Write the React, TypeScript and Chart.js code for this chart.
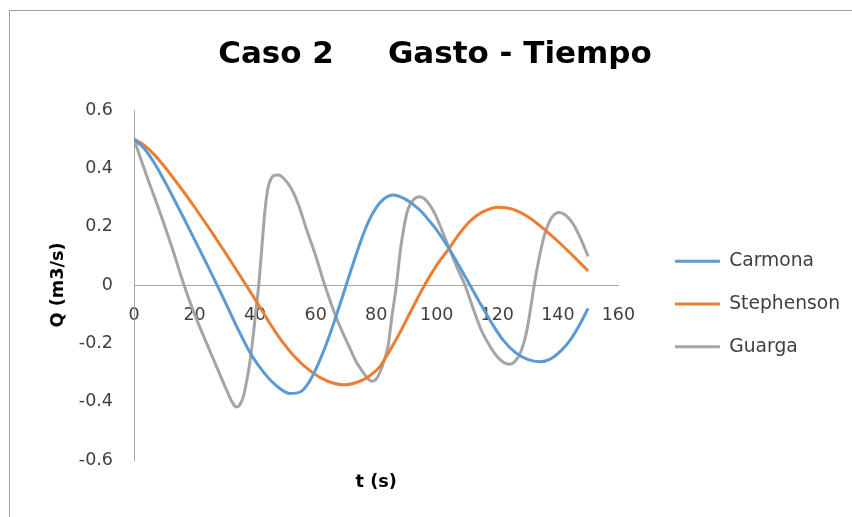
import { useEffect, useRef } from 'react';
import { Chart, registerables } from 'chart.js';

Chart.register(...registerables);

// ---- Data ----
const seriesNames = ['Carmona', 'Stephenson', 'Guarga'];
const seriesColors = ['#5B9BD5', '#ED7D31', '#A5A5A5'];

const carmonaT = [0, 3, 6.6, 10, 13.2, 16.5, 19.8, 23.5, 27.3, 31, 35, 38.5, 42.7, 47, 51.5, 55, 57.5, 60, 62.5, 65, 67.5, 70, 72.5, 75, 77.5, 80, 82.5, 85.6, 89, 92.5, 95, 97.7, 100, 104, 107, 110.3, 114, 118.6, 122, 126, 130, 134, 137.5, 141, 144, 147, 150];
const carmonaQ = [0.5, 0.472, 0.42, 0.358, 0.295, 0.228, 0.16, 0.083, 0.003, -0.078, -0.165, -0.235, -0.298, -0.345, -0.372, -0.366, -0.338, -0.29, -0.23, -0.16, -0.083, -0.003, 0.077, 0.153, 0.218, 0.265, 0.295, 0.309, 0.298, 0.274, 0.251, 0.218, 0.188, 0.126, 0.072, 0.012, -0.057, -0.138, -0.19, -0.232, -0.255, -0.263, -0.254, -0.226, -0.19, -0.14, -0.08];

const stephensonT = [0, 3, 6.6, 10, 13.2, 16.5, 19.8, 23, 26.4, 30, 33, 37, 40.5, 44, 48.2, 53, 58.6, 64, 69.5, 74.6, 78, 81.2, 84.5, 88, 91.1, 96, 100, 104.1, 107.5, 110.9, 115, 120.5, 125, 130, 135.6, 140, 145, 150];
const stephensonQ = [0.5, 0.482, 0.448, 0.407, 0.364, 0.318, 0.27, 0.222, 0.17, 0.113, 0.065, 0, -0.058, -0.117, -0.183, -0.245, -0.298, -0.33, -0.342, -0.33, -0.31, -0.28, -0.225, -0.16, -0.097, 0, 0.068, 0.126, 0.176, 0.218, 0.25, 0.267, 0.26, 0.235, 0.19, 0.15, 0.1, 0.048];

const guargaT = [0, 4, 8.3, 12.5, 16.5, 20, 24, 28.5, 31, 32.5, 33.8, 35, 36.2, 37.2, 38.2, 39.2, 40.3, 41.2, 42.2, 43.2, 44.2, 45.3, 46.5, 47.8, 49.5, 52, 54.5, 57, 60, 63, 66.7, 69, 71, 73.5, 75.7, 77.2, 78.5, 79.8, 81.2, 82.6, 83.9, 85.3, 86.7, 88, 89.2, 90.5, 92.3, 94.2, 96, 99.3, 102, 104.1, 106.5, 109.3, 112, 114.5, 117, 119.5, 122, 124.1, 125.8, 127.5, 128.7, 129.8, 131, 132.2, 133.4, 134.6, 136, 138, 140.4, 142.5, 145, 147.5, 150];
const guargaQ = [0.5, 0.38, 0.257, 0.13, 0, -0.1, -0.2, -0.31, -0.37, -0.403, -0.418, -0.41, -0.38, -0.33, -0.27, -0.19, -0.085, 0, 0.125, 0.25, 0.33, 0.365, 0.376, 0.377, 0.365, 0.33, 0.27, 0.19, 0.1, 0, -0.109, -0.165, -0.21, -0.265, -0.3, -0.32, -0.33, -0.325, -0.3, -0.26, -0.21, -0.1, 0, 0.12, 0.2, 0.26, 0.292, 0.303, 0.295, 0.246, 0.18, 0.126, 0.065, 0, -0.08, -0.15, -0.2, -0.24, -0.265, -0.272, -0.262, -0.235, -0.2, -0.154, -0.08, 0, 0.07, 0.131, 0.185, 0.232, 0.249, 0.24, 0.21, 0.16, 0.098];

const xMin = 0;
const xMax = 160;
const xStep = 20;
const yMin = -0.6;
const yMax = 0.6;
const yStep = 0.2;

const titleText = 'Caso 2     Gasto - Tiempo';
const xTitle = 't (s)';
const yTitle = 'Q (m3/s)';

const FONT = 'DejaVu Sans';
const AXIS_COLOR = '#A6A6A6';
const LABEL_COLOR = '#404040';

export default function App() {
  const ref = useRef<HTMLCanvasElement | null>(null);

  useEffect(() => {
    document.body.style.margin = '0';
    const canvas = ref.current;
    if (!canvas) return;

    const toPts = (t: number[], q: number[]) => t.map((x, i) => ({ x, y: q[i] }));
    const seriesT = [carmonaT, stephensonT, guargaT];
    const seriesQ = [carmonaQ, stephensonQ, guargaQ];

    const frame = {
      id: 'frame',
      beforeDraw(chart: any) {
        const ctx = chart.ctx;
        ctx.save();
        ctx.fillStyle = '#ffffff';
        ctx.fillRect(0, 0, chart.width, chart.height);
        ctx.fillStyle = '#A0A0A0';
        ctx.fillRect(9, 10, chart.width, 1);
        ctx.fillRect(9, 10, 1, chart.height);
        ctx.restore();
      },
    };

    const chart = new Chart(canvas, {
      type: 'scatter',
      data: {
        datasets: seriesNames.map((name, i) => ({
          label: name,
          data: toPts(seriesT[i], seriesQ[i]),
          borderColor: seriesColors[i],
          backgroundColor: seriesColors[i],
          showLine: true,
          pointRadius: 0,
          pointHoverRadius: 0,
          borderWidth: 3,
          cubicInterpolationMode: 'monotone',
        })),
      },
      options: {
        responsive: false,
        animation: false,
        devicePixelRatio: 1,
        layout: { padding: { left: 20, right: 2, top: 0, bottom: 57 } },
        plugins: {
          tooltip: { enabled: false },
          title: {
            display: true,
            text: titleText,
            color: '#000000',
            font: { family: FONT, size: 31, weight: 'bold', lineHeight: 1.2 },
            padding: { top: 35.9, bottom: 36.9 },
          },
          legend: {
            position: 'right',
            fullSize: false,
            align: 'center',
            maxWidth: 320,
            title: { display: true, text: '', padding: { top: 28, bottom: 0 }, font: { size: 10, lineHeight: 1 } },
            labels: {
              boxWidth: 45,
              boxHeight: 3,
              padding: 24,
              color: LABEL_COLOR,
              font: { family: FONT, size: 18.7 },
              generateLabels: (c: any) =>
                Chart.defaults.plugins.legend.labels.generateLabels(c).map((l: any) => ({
                  ...l,
                  lineWidth: 0,
                  fillStyle: l.strokeStyle,
                })),
            },
          },
        },
        scales: {
          x: {
            type: 'linear',
            position: { y: 0 },
            min: xMin,
            max: xMax,
            ticks: { stepSize: xStep, padding: 19.5, color: LABEL_COLOR, font: { family: FONT, size: 17.5 } },
            grid: { display: false, drawTicks: false },
            border: { display: true, color: AXIS_COLOR, width: 1 },
            title: {
              display: true,
              text: xTitle,
              color: '#000000',
              font: { family: FONT, size: 17.7, weight: 'bold', lineHeight: 1.2 },
              padding: { top: 127, bottom: 0 },
            },
          },
          y: {
            type: 'linear',
            position: 'left',
            min: yMin,
            max: yMax,
            ticks: {
              stepSize: yStep,
              padding: 21,
              color: LABEL_COLOR,
              font: { family: FONT, size: 17.5 },
              callback: (v: any) => {
                const n = Math.round(Number(v) * 10) / 10;
                return n === 0 ? '0' : String(n);
              },
            },
            grid: { display: false, drawTicks: false },
            border: { display: true, color: AXIS_COLOR, width: 1 },
            title: {
              display: true,
              text: yTitle,
              color: '#000000',
              font: { family: FONT, size: 17.7, weight: 'bold', lineHeight: 1.2 },
              padding: { top: 27.4, bottom: 0 },
            },
            afterFit: (s: any) => {
              s.width = 114;
            },
          },
          spacer: {
            type: 'linear',
            position: 'right',
            display: true,
            grid: { display: false, drawTicks: false },
            border: { display: false },
            ticks: { display: false },
            afterFit: (s: any) => {
              s.width = 32.5;
            },
          },
        },
      } as any,
      plugins: [frame],
    });

    return () => chart.destroy();
  }, []);

  return <canvas ref={ref} width={852} height={517} style={{ display: 'block' }} />;
}
